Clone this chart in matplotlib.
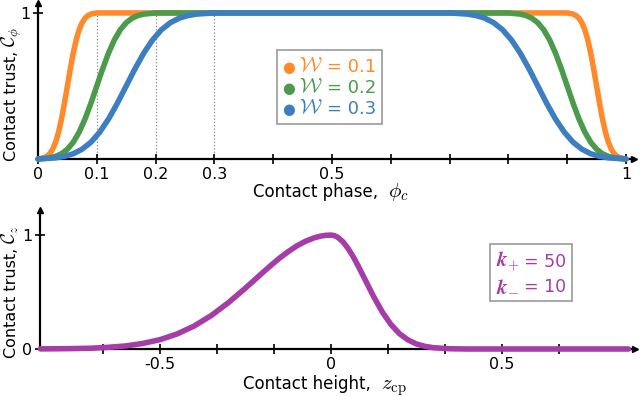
import matplotlib
matplotlib.use("Agg")
import matplotlib.pyplot as plt
from matplotlib.offsetbox import TextArea, HPacker, VPacker, AnchoredOffsetbox
from matplotlib.mathtext import MathTextParser
from matplotlib.font_manager import FontProperties

plt.rcParams['font.family'] = ['DejaVu Sans']
plt.rcParams['mathtext.fontset'] = 'cm'

# ---------------- data ----------------
ramp_vals = [0.0, 0.004, 0.008, 0.018, 0.036, 0.067, 0.115, 0.184, 0.274, 0.382,
             0.5, 0.618, 0.726, 0.816, 0.885, 0.933, 0.964, 0.982, 0.992, 0.996, 1.0]
fall_vals = [1.0, 0.996, 0.992, 0.982, 0.964, 0.933, 0.885, 0.816, 0.726, 0.618,
             0.5, 0.382, 0.274, 0.184, 0.115, 0.067, 0.036, 0.018, 0.008, 0.004, 0.0]

phi_rise_01 = [0.0, 0.005, 0.01, 0.015, 0.02, 0.025, 0.03, 0.035, 0.04, 0.045, 0.05,
               0.055, 0.06, 0.065, 0.07, 0.075, 0.08, 0.085, 0.09, 0.095, 0.1]
phi_fall_01 = [0.9, 0.905, 0.91, 0.915, 0.92, 0.925, 0.93, 0.935, 0.94, 0.945, 0.95,
               0.955, 0.96, 0.965, 0.97, 0.975, 0.98, 0.985, 0.99, 0.995, 1.0]
phi_rise_02 = [0.0, 0.01, 0.02, 0.03, 0.04, 0.05, 0.06, 0.07, 0.08, 0.09, 0.1,
               0.11, 0.12, 0.13, 0.14, 0.15, 0.16, 0.17, 0.18, 0.19, 0.2]
phi_fall_02 = [0.8, 0.81, 0.82, 0.83, 0.84, 0.85, 0.86, 0.87, 0.88, 0.89, 0.9,
               0.91, 0.92, 0.93, 0.94, 0.95, 0.96, 0.97, 0.98, 0.99, 1.0]
phi_rise_03 = [0.0, 0.015, 0.03, 0.045, 0.06, 0.075, 0.09, 0.105, 0.12, 0.135, 0.15,
               0.165, 0.18, 0.195, 0.21, 0.225, 0.24, 0.255, 0.27, 0.285, 0.3]
phi_fall_03 = [0.7, 0.715, 0.73, 0.745, 0.76, 0.775, 0.79, 0.805, 0.82, 0.835, 0.85,
               0.865, 0.88, 0.895, 0.91, 0.925, 0.94, 0.955, 0.97, 0.985, 1.0]

window_labels = ['0.1', '0.2', '0.3']
window_colors = ['#ff8a2a', '#4c9a4c', '#3d7ec0']

phase_ticks = [0.0, 0.1, 0.2, 0.3, 0.4, 0.5, 0.6, 0.7, 0.8, 0.9, 1.0]
phase_ticklabels = ['0', '0.1', '0.2', '0.3', '', '0.5', '', '', '', '', '1']
dotted_phases = [0.1, 0.2, 0.3]

z_vals = [-0.85, -0.8, -0.75, -0.7, -0.65, -0.6, -0.55, -0.5, -0.45, -0.4, -0.35,
          -0.3, -0.25, -0.2, -0.175, -0.15, -0.125, -0.1, -0.075, -0.05, -0.03, -0.015,
          0.0, 0.01, 0.02, 0.035, 0.05, 0.065, 0.08, 0.1, 0.125, 0.15, 0.175, 0.2,
          0.225, 0.25, 0.275, 0.3, 0.35, 0.4, 0.5, 0.6, 0.7, 0.8, 0.87]
cz_vals = [0.001, 0.002, 0.004, 0.007, 0.015, 0.027, 0.049, 0.082, 0.132, 0.202, 0.294,
           0.407, 0.535, 0.670, 0.736, 0.799, 0.855, 0.905, 0.945, 0.975, 0.991, 0.998,
           1.0, 0.995, 0.980, 0.941, 0.882, 0.810, 0.726, 0.607, 0.458, 0.325, 0.216, 0.135,
           0.080, 0.044, 0.023, 0.011, 0.002, 0.0, 0.0, 0.0, 0.0, 0.0, 0.0]
height_ticks = [-2/3, -0.5, -1/3, -1/6, 0.0, 1/6, 1/3, 0.5, 2/3]
height_ticklabels = ['', '-0.5', '', '', '0', '', '', '0.5', '']
gain_labels = ['+', '-']
gain_values = ['50', '10']
purple = '#a63ca8'

# ---------------- figure ----------------
W, H = 640, 397
fig = plt.figure(figsize=(6.4, 3.97), dpi=100)


def ax_rect(l, r, t, b):
    return [l / W, 1 - b / H, (r - l) / W, (b - t) / H]


def style_axes(ax):
    for s in ['top', 'right']:
        ax.spines[s].set_visible(False)
    for s in ['left', 'bottom']:
        ax.spines[s].set_linewidth(1.6)
        ax.spines[s].set_color('black')
    ax.tick_params(direction='inout', length=7, width=1.2, colors='black',
                   labelsize=11.5, pad=2)
    ax.plot(1, 0, '>', color='black', ms=5, transform=ax.transAxes, clip_on=False)
    ax.plot(0, 1, '^', color='black', ms=5, transform=ax.transAxes, clip_on=False)


# top axes
ax1 = fig.add_axes(ax_rect(38, 634, 3, 159))
ax1.set_xlim(0, 1.0136)
ax1.set_ylim(0, 1.068)
style_axes(ax1)
for p in dotted_phases:
    ax1.plot([p, p], [0, 1], linestyle=':', color='#888888', lw=0.9, zorder=1)
rises = [(phi_rise_01, phi_fall_01), (phi_rise_02, phi_fall_02), (phi_rise_03, phi_fall_03)]
for (pr, pf), col in zip(rises, window_colors):
    xs = list(pr) + list(pf)
    ys = list(ramp_vals) + list(fall_vals)
    ax1.plot(xs, ys, color=col, lw=4, solid_capstyle='round', zorder=3, clip_on=False)
ax1.set_xticks(phase_ticks)
ax1.set_xticklabels(phase_ticklabels)
ax1.set_yticks([1])
ax1.set_yticklabels(['1'])

# bottom axes
ax2 = fig.add_axes(ax_rect(40, 635, 210, 349))
ax2.set_xlim(-0.851, 0.889)
ax2.set_ylim(0, 1.22)
style_axes(ax2)
ax2.plot(z_vals, cz_vals, color=purple, lw=4, solid_capstyle='round', zorder=3, clip_on=False)
ax2.set_xticks(height_ticks)
ax2.set_xticklabels(height_ticklabels)
ax2.set_yticks([0, 1])
ax2.set_yticklabels(['0', '1'])

# legend box (top)
rows = []
for c, l in zip(window_colors, window_labels):
    rows.append(HPacker(children=[
        TextArea('\u25cf', textprops=dict(color=c, fontsize=10.5)),
        TextArea(r'$\mathcal{W}$', textprops=dict(color=c, fontsize=15)),
        TextArea('= ' + l, textprops=dict(color=c, fontsize=13)),
    ], align='baseline', pad=0, sep=3))
leg = AnchoredOffsetbox(loc='upper left', child=VPacker(children=rows, align='left', pad=0, sep=1),
                        pad=0.4, borderpad=0, frameon=True,
                        bbox_to_anchor=(277 / W, 1 - 50 / H), bbox_transform=fig.transFigure)
leg.patch.set_edgecolor('#999999')
leg.patch.set_linewidth(1.2)
fig.add_artist(leg)

# gain box (bottom)
kstr = r'\mathbfit{k}'
try:
    MathTextParser('path').parse(r'$\mathbfit{k}$', prop=FontProperties(size=12))
except Exception:
    kstr = r'\mathbf{k}'
krows = []
for s, v in zip(gain_labels, gain_values):
    krows.append(HPacker(children=[
        TextArea(r'$' + kstr + '_{' + s + '}$', textprops=dict(color=purple, fontsize=15)),
        TextArea('= ' + v, textprops=dict(color=purple, fontsize=12.5)),
    ], align='baseline', pad=0, sep=3))
kbox = AnchoredOffsetbox(loc='upper right', child=VPacker(children=krows, align='right', pad=0, sep=1),
                         pad=0.4, borderpad=0, frameon=True,
                         bbox_to_anchor=(572 / W, 1 - 244 / H), bbox_transform=fig.transFigure)
kbox.patch.set_edgecolor('#999999')
kbox.patch.set_linewidth(1.2)
fig.add_artist(kbox)

# axis labels built of a sans text part and a larger math part
fig.canvas.draw()
rend = fig.canvas.get_renderer()


def hlabel(x0, yb, txt, math, gap=10):
    t1 = fig.text(x0 / W, 1 - yb / H, txt, ha='left', va='baseline', fontsize=12)
    bb = t1.get_window_extent(rend)
    fig.text((bb.x1 + gap) / W, 1 - yb / H, math, ha='left', va='baseline', fontsize=15)


def vlabel(xb, y0, txt, math, gap=4):
    t1 = fig.text(xb / W, 1 - y0 / H, txt, ha='left', va='baseline', fontsize=11.5,
                  rotation=90, rotation_mode='anchor')
    bb = t1.get_window_extent(rend)
    fig.text(xb / W, (bb.y1 + gap) / H, math, ha='left', va='baseline', fontsize=13.5,
             rotation=90, rotation_mode='anchor')


hlabel(253, 197, 'Contact phase,', r'$\phi_c$')
hlabel(243, 389, 'Contact height,', r'$z_{\rm cp}$')
vlabel(16, 161, 'Contact trust,', r'$\mathcal{C}_\phi$')
vlabel(16, 358, 'Contact trust,', r'$\mathcal{C}_z$')

fig.savefig('out.png', dpi=100)
